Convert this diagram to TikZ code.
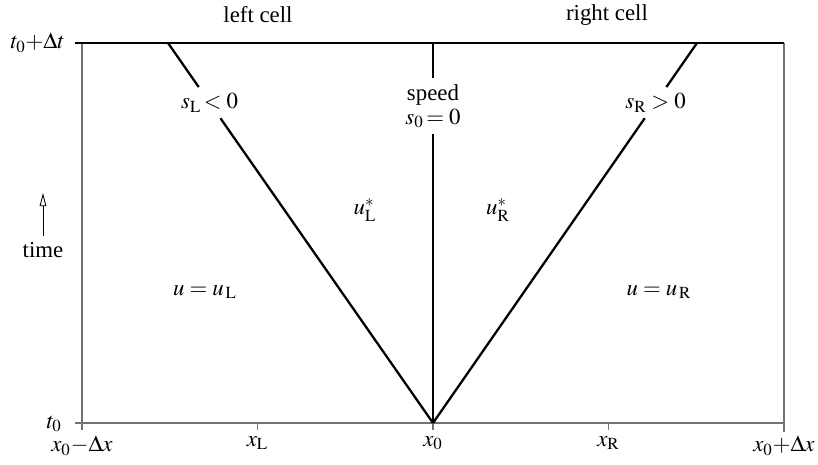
\documentclass[tikz,border=0pt]{standalone}
\usepackage{mathptmx}
\usepackage{fontspec}
\setmainfont{Liberation Serif}
\usepackage{tikz}
\usetikzlibrary{arrows.meta}

\begin{document}
\begin{tikzpicture}[
    font=\fontsize{13}{15.5}\selectfont,
    axis/.style={draw=black!55, line width=0.7pt},
    lid/.style={draw=black, line width=0.8pt},
    wave/.style={draw=black, line width=1.3pt},
    tarr/.style={-{Triangle[open, length=7.5pt, width=3.8pt]}, line width=0.5pt}
]
\useasboundingbox (-8.66,-0.84) rectangle (7.70,8.46);

\coordinate (o)  at (0,0);
\coordinate (bl) at (-7.02,0);
\coordinate (br) at (7.02,0);
\coordinate (tl) at (-7.02,7.6);
\coordinate (tr) at (7.02,7.6);
\coordinate (xL) at (-3.51,0);
\coordinate (xR) at (3.51,0);
\coordinate (wL) at (-5.30,7.6);
\coordinate (w0) at (0,7.6);
\coordinate (wR) at (5.28,7.6);

% frame of the two cells
\draw[axis] ([xshift=-0.14cm]bl) -- (br);
\draw[axis] ([yshift=-0.14cm]bl) -- (tl);
\draw[axis] ([yshift=-0.18cm]br) -- (tr);
\draw[lid]  ([xshift=-0.14cm]tl) -- (tr);
\draw[axis] (xL) -- ++(0,-0.14);
\draw[axis] (o)  -- ++(0,-0.14);
\draw[axis] (xR) -- ++(0,-0.14);

% wave labels sit on the waves
\path (o) -- (wL) node[pos=0.843] (sL) {$s_{\mathrm{L}}\!< 0$};
\path (o) -- (w0) node[pos=0.834, align=center] (s0) {speed\\[-2pt]$s_0\!= 0$};
\path (o) -- (wR) node[pos=0.843] (sR) {$s_{\mathrm{R}} > 0$};

\draw[wave] (o) -- (sL) -- (wL);
\draw[wave] (o) -- (s0) -- (w0);
\draw[wave] (o) -- (sR) -- (wR);

% states
\node (uL)  at (-4.56,2.62) {$u = u_{\,\mathrm{L}}$};
\node (uR)  at (4.52,2.62)  {$u = u_{\,\mathrm{R}}$};
\node (uLs) at (-1.36,4.26) {$u^*_{\mathrm{L}}$};
\node (uRs) at (1.30,4.26)  {$u^*_{\mathrm{R}}$};

% cell names
\node (lcell) at (-3.50,8.16) {left cell};
\node (rcell) at (3.48,8.16)  {right cell};

% time axis
\node[anchor=east] (t1) at (-7.24,7.6) {$t_0{+}\Delta t$};
\node[anchor=east] (t0) at (-7.30,-0.02) {$t_0$};
\node (time) at (-7.80,3.46) {time};
\coordinate (tup) at (-7.80,4.60);
\draw[tarr] (time) -- (tup);

% space axis
\node[anchor=north] (xm) at (-7.02,-0.14) {$x_0{-}\Delta x$};
\node[anchor=north] (xl) at (-3.51,-0.14) {$x_{\mathrm{L}}$};
\node[anchor=north] (xo) at (0,-0.14)     {$x_0$};
\node[anchor=north] (xr) at (3.51,-0.14)  {$x_{\mathrm{R}}$};
\node[anchor=north] (xp) at (7.02,-0.14)  {$x_0{+}\Delta x$};
\end{tikzpicture}
\end{document}
